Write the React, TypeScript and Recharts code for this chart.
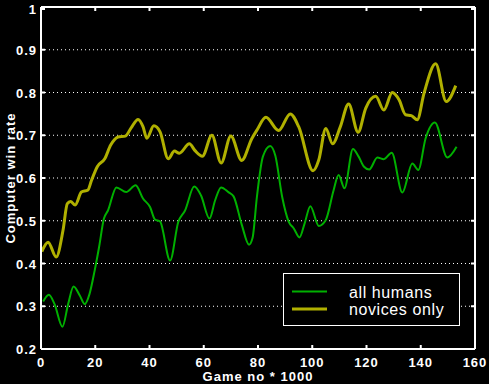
import React from 'react';
import { LineChart, Line, XAxis, YAxis, CartesianGrid, Legend } from 'recharts';

const xTicks = [0, 20, 40, 60, 80, 100, 120, 140, 160];
const yTicks = [0.2, 0.3, 0.4, 0.5, 0.6, 0.7, 0.8, 0.9, 1];

// all humans (game no * 1000, win rate)
const humansX = [
  0.8, 2.9, 5, 7.9, 10, 12, 14.3, 16.1, 17.9, 19.8, 21.4, 23.2, 24.7, 27.8, 31.4, 34.9, 37.6, 40.2, 42, 43.9,
  47.6, 50.6, 53.1, 56.5, 59, 62.1, 64.2, 66.4, 69.1, 71, 74, 76.7, 78, 79.6, 81.8, 84.5, 86.4, 88.9, 91.3,
  93.2, 95.3, 97.2, 99.3, 102.4, 105, 107.9, 109.7, 111.9, 115, 117.1, 119, 121, 124, 126.4, 129.3, 133.2,
  136.9, 139.1, 141.8, 145.2, 149.8, 153.2,
];
const humansY = [
  0.311, 0.327, 0.305, 0.252, 0.305, 0.346, 0.325, 0.305, 0.329, 0.384, 0.438, 0.505, 0.524, 0.578, 0.567,
  0.583, 0.552, 0.532, 0.503, 0.498, 0.407, 0.497, 0.524, 0.58, 0.559, 0.505, 0.548, 0.578, 0.567, 0.557,
  0.491, 0.444, 0.46, 0.556, 0.65, 0.675, 0.652, 0.556, 0.498, 0.482, 0.461, 0.494, 0.534, 0.488, 0.502,
  0.572, 0.607, 0.576, 0.668, 0.65, 0.627, 0.62, 0.648, 0.644, 0.659, 0.566, 0.634, 0.619, 0.693, 0.73,
  0.648, 0.673,
];

// novices only
const novicesX = [
  0.3, 2.6, 5.6, 8.1, 9.7, 10.9, 12.6, 14.9, 17.3, 18.6, 20.8, 23.5, 25.7, 28.4, 31.1, 33.3, 35.8, 37.6, 39,
  41.6, 43.9, 46.9, 49.2, 51, 54.7, 56.8, 59.5, 63, 66.4, 70, 74, 77.7, 79.6, 82.9, 87.6, 91.9, 95, 100.3,
  102.4, 105, 107.5, 110.3, 113.4, 116.9, 119.7, 123.4, 126.4, 129.5, 132, 134.4, 136.5, 138.7, 141.2, 145.5,
  149.4, 152.9,
];
const novicesY = [
  0.428, 0.45, 0.415, 0.477, 0.54, 0.545, 0.537, 0.567, 0.572, 0.594, 0.627, 0.645, 0.677, 0.696, 0.698,
  0.718, 0.737, 0.72, 0.693, 0.722, 0.708, 0.645, 0.663, 0.658, 0.68, 0.664, 0.651, 0.7, 0.635, 0.698, 0.641,
  0.692, 0.712, 0.742, 0.711, 0.75, 0.72, 0.617, 0.642, 0.716, 0.68, 0.719, 0.773, 0.707, 0.763, 0.791, 0.759,
  0.8, 0.783, 0.748, 0.746, 0.736, 0.798, 0.867, 0.779, 0.816,
];

const toPoints = (xs: number[], ys: number[]) => xs.map((x, i) => ({ x, y: ys[i] }));
const humans = toPoints(humansX, humansY);
const novices = toPoints(novicesX, novicesY);

const GREEN = '#00b000';
const YELLOW = '#b0b000';
const FONT = '"Liberation Sans", Arial, sans-serif';

const labelStyle = { fontFamily: FONT, fontSize: 13, fontWeight: 'bold' as const, letterSpacing: 1 };

const BottomTick = ({ x, y, payload }: any) => (
  <g>
    <line x1={x} y1={y} x2={x} y2={y - 4} stroke="#fff" strokeWidth={2} />
    <text x={x} y={y + 18} textAnchor="middle" fill="#fff" style={labelStyle}>
      {payload.value}
    </text>
  </g>
);

const TopTick = ({ x, y }: any) => <line x1={x} y1={y} x2={x} y2={y + 4} stroke="#fff" strokeWidth={2} />;

const LeftTick = ({ x, y, payload }: any) => (
  <g>
    <line x1={x} y1={y} x2={x + 4} y2={y} stroke="#fff" strokeWidth={2} />
    <text x={x - 4} y={y + 5} textAnchor="end" fill="#fff" style={labelStyle}>
      {payload.value}
    </text>
  </g>
);

const RightTick = ({ x, y }: any) => <line x1={x} y1={y} x2={x - 4} y2={y} stroke="#fff" strokeWidth={2} />;

const XLabel = ({ viewBox }: any) => (
  <text x={viewBox.x + viewBox.width / 2} y={viewBox.y + 32} textAnchor="middle" fill="#fff" style={labelStyle}>
    Game no * 1000
  </text>
);

const YLabel = ({ viewBox }: any) => {
  const cx = 15;
  const cy = viewBox.y + viewBox.height / 2;
  return (
    <text x={cx} y={cy} transform={`rotate(-90 ${cx} ${cy})`} textAnchor="middle" fill="#fff" style={labelStyle}>
      Computer win rate
    </text>
  );
};

const renderLegend = () => (
  <svg width={178} height={54} style={{ display: 'block' }}>
    <rect x={0.5} y={0.5} width={176} height={52} fill="#000" stroke="#fff" strokeWidth={1} />
    <line x1={9} y1={18.5} x2={44} y2={18.5} stroke={GREEN} strokeWidth={2} />
    <line x1={9} y1={36} x2={44} y2={36} stroke={YELLOW} strokeWidth={3} />
    <text x={66} y={25} fill="#fff" style={{ fontFamily: FONT, fontSize: 16, letterSpacing: 0.6 }}>
      all humans
    </text>
    <text x={66} y={42} fill="#fff" style={{ fontFamily: FONT, fontSize: 16, letterSpacing: 0.6 }}>
      novices only
    </text>
  </svg>
);

export default function App() {
  return (
    <div style={{ position: 'fixed', left: 0, top: 0, width: 489, height: 384, background: '#000' }}>
      <LineChart width={489} height={384} margin={{ top: 0, right: 0, bottom: 0, left: 0 }}>
        <CartesianGrid
          xAxisId="bottom"
          yAxisId="left"
          vertical={false}
          stroke="#fff"
          strokeDasharray="1 3"
        />
        <XAxis
          xAxisId="bottom"
          dataKey="x"
          type="number"
          domain={[0, 160]}
          ticks={xTicks}
          height={35}
          tickSize={0}
          tickMargin={0}
          tickLine={false}
          tick={<BottomTick />}
          axisLine={{ stroke: '#fff', strokeWidth: 2 }}
          label={<XLabel />}
        />
        <XAxis
          xAxisId="top"
          orientation="top"
          dataKey="x"
          type="number"
          domain={[0, 160]}
          ticks={xTicks}
          height={7}
          tickSize={0}
          tickMargin={0}
          tickLine={false}
          tick={<TopTick />}
          axisLine={{ stroke: '#fff', strokeWidth: 2 }}
        />
        <YAxis
          yAxisId="left"
          type="number"
          domain={[0.2, 1]}
          ticks={yTicks}
          width={41}
          tickSize={0}
          tickMargin={0}
          tickLine={false}
          tick={<LeftTick />}
          axisLine={{ stroke: '#fff', strokeWidth: 2 }}
          label={<YLabel />}
        />
        <YAxis
          yAxisId="right"
          orientation="right"
          type="number"
          domain={[0.2, 1]}
          ticks={yTicks}
          width={14}
          tickSize={0}
          tickMargin={0}
          tickLine={false}
          tick={<RightTick />}
          axisLine={{ stroke: '#fff', strokeWidth: 2 }}
        />
        <Legend
          layout="vertical"
          align="center"
          verticalAlign="middle"
          content={renderLegend}
          wrapperStyle={{ position: 'absolute', left: 283, top: 273, width: 178, height: 54 }}
        />
        <Line
          xAxisId="bottom"
          yAxisId="left"
          data={humans}
          dataKey="y"
          name="all humans"
          type="monotone"
          stroke={GREEN}
          strokeWidth={2}
          dot={false}
          activeDot={false}
          isAnimationActive={false}
        />
        <Line
          xAxisId="top"
          yAxisId="right"
          data={novices}
          dataKey="y"
          name="novices only"
          type="monotone"
          stroke={YELLOW}
          strokeWidth={3}
          dot={false}
          activeDot={false}
          isAnimationActive={false}
        />
      </LineChart>
    </div>
  );
}
